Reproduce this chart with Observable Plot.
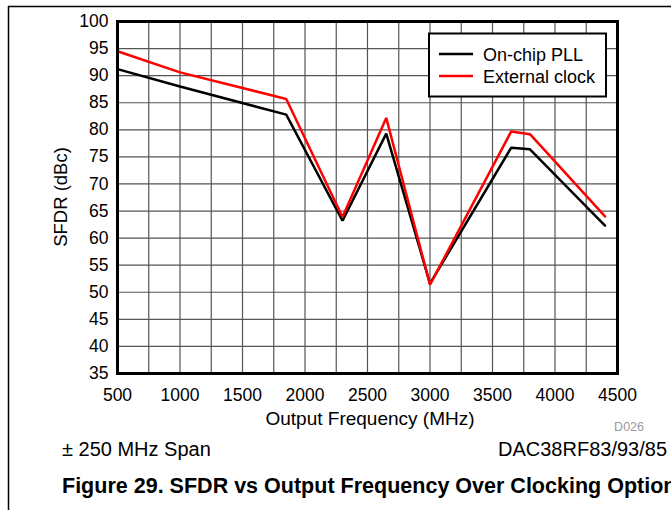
<!DOCTYPE html>
<html>
<head>
<meta charset="utf-8">
<script src="https://cdn.jsdelivr.net/npm/d3@7"></script>
<script src="https://cdn.jsdelivr.net/npm/@observablehq/plot@0.6"></script>
<style>
  html, body { margin: 0; padding: 0; background: #fff; overflow: hidden; }
  #chart svg { display: block; }
</style>
</head>
<body>
<div id="chart"></div>
<script>
const freqs = [500, 1000, 1850, 2300, 2650, 3000, 3650, 3800, 4400];
const onChipPLL = [91.2, 88.0, 82.8, 63.2, 79.3, 51.6, 76.7, 76.4, 62.3];
const externalClock = [94.5, 90.6, 85.7, 63.9, 82.2, 51.4, 79.7, 79.2, 64.0];
const seriesNames = ["On-chip PLL", "External clock"];
const seriesColors = ["#000000", "#ff0000"];
const xTicks = [500, 1000, 1500, 2000, 2500, 3000, 3500, 4000, 4500];
const yTicks = [35, 40, 45, 50, 55, 60, 65, 70, 75, 80, 85, 90, 95, 100];
const xGrid = d3.range(500, 4501, 250);

const rows = [];
freqs.forEach((f, i) => rows.push({f, v: onChipPLL[i], s: seriesNames[0]}));
freqs.forEach((f, i) => rows.push({f, v: externalClock[i], s: seriesNames[1]}));

const font = "Arial, 'Liberation Sans', sans-serif";

const plot = Plot.plot({
  width: 671,
  height: 510,
  marginLeft: 117,
  marginRight: 54,
  marginTop: 21,
  marginBottom: 137,
  style: {fontFamily: font, fontSize: "17.5px", color: "#000", background: "#fff"},
  x: {domain: [500, 4500]},
  y: {domain: [35, 100]},
  color: {domain: seriesNames, range: seriesColors},
  marks: [
    Plot.gridX(xGrid, {stroke: "#555", strokeOpacity: 1, strokeWidth: 1.2}),
    Plot.gridY(yTicks, {stroke: "#555", strokeOpacity: 1, strokeWidth: 1.2}),
    Plot.axisX(xTicks, {tickSize: 0, tickPadding: 15, fontSize: 17.5, tickFormat: d3.format("d"), label: null}),
    Plot.axisY(yTicks, {tickSize: 0, tickPadding: 9, fontSize: 17.5, tickFormat: d3.format("d"), label: null}),
    Plot.line(rows, {x: "f", y: "v", z: "s", stroke: "s", strokeWidth: 2.5, strokeLinejoin: "miter"}),
    Plot.frame({stroke: "#000", strokeWidth: 3})
  ]
});

document.getElementById("chart").appendChild(plot);

const svg = d3.select(plot);
// page border lines
svg.append("line").attr("x1", 8).attr("x2", 671).attr("y1", 6.5).attr("y2", 6.5)
  .attr("stroke", "#000").attr("stroke-width", 1.5);
svg.append("line").attr("x1", 8.5).attr("x2", 8.5).attr("y1", 6).attr("y2", 510)
  .attr("stroke", "#000").attr("stroke-width", 1.5);

function txt(x, y, s, size, anchor, extra = {}) {
  const t = svg.append("text").attr("x", x).attr("y", y)
    .attr("text-anchor", anchor).attr("font-family", font)
    .attr("font-size", size).attr("fill", extra.fill || "#000").text(s);
  if (extra.bold) t.attr("font-weight", "bold");
  return t;
}

// axis titles
txt(370, 425, "Output Frequency (MHz)", 19, "middle");
svg.append("text").attr("transform", "translate(67,197) rotate(-90)").attr("text-anchor", "middle")
  .attr("font-family", font).attr("font-size", 18.5).attr("fill", "#000").text("SFDR (dBc)");

// legend
const lg = svg.append("g");
lg.append("rect").attr("x", 429).attr("y", 33.5).attr("width", 177).attr("height", 63)
  .attr("fill", "#fff").attr("stroke", "#000").attr("stroke-width", 2);
seriesNames.forEach((n, i) => {
  const yy = 54 + i * 22;
  lg.append("line").attr("x1", 439).attr("x2", 473).attr("y1", yy).attr("y2", yy)
    .attr("stroke", seriesColors[i]).attr("stroke-width", 2.5);
  lg.append("text").attr("x", 483).attr("y", yy + 6.5).attr("text-anchor", "start")
    .attr("font-family", font).attr("font-size", 18).attr("fill", "#000").text(n);
});

// annotations
txt(644, 431, "D026", 12.5, "end", {fill: "#999"});
txt(62, 456, "± 250 MHz Span", 20, "start");
txt(667, 456, "DAC38RF83/93/85", 20, "end");
const title = txt(62, 493, "Figure 29. SFDR vs Output Frequency Over Clocking Options", 16, "start", {bold: true});
// size so that "...Optio" ends near the right edge, as in the reference crop
const probe = txt(0, -100, "Figure 29. SFDR vs Output Frequency Over Clocking Optio", 16, "start", {bold: true});
const w = probe.node().getComputedTextLength();
probe.remove();
if (w > 0) title.attr("font-size", 16 * 602 / w);
</script>
</body>
</html>
